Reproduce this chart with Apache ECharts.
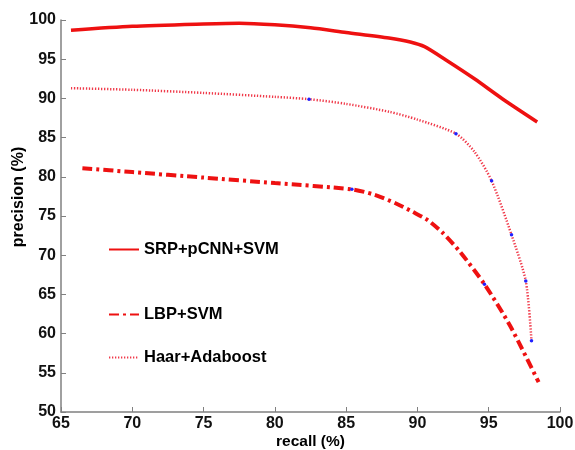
<!DOCTYPE html>
<html><head><meta charset="utf-8">
<script src="https://cdn.jsdelivr.net/npm/echarts@6/dist/echarts.min.js"></script>
<style>html,body{margin:0;padding:0;background:#fff}#c{width:575px;height:450px}</style>
</head><body><div id="c"></div>
<script>
var seriesNames = ['SRP+pCNN+SVM', 'LBP+SVM', 'Haar+Adaboost'];
var srpRecall = [65.7, 70, 75, 77.5, 80, 82.5, 85, 88, 89.5, 90.5, 92, 94, 96, 98.4];
var srpPrecision = [98.7, 99.2, 99.5, 99.6, 99.4, 99.0, 98.4, 97.7, 97.2, 96.6, 94.9, 92.5, 89.9, 87.0];
var lbpRecall = [66.5, 70, 75, 80, 85.4, 87, 88.5, 89.7, 90.7, 91.8, 93, 94.7, 96.5, 98.5];
var lbpPrecision = [81.1, 80.6, 79.9, 79.2, 78.4, 77.7, 76.6, 75.5, 74.5, 72.8, 70.4, 66.3, 61.0, 53.8];
var haarRecall = [65.7, 70, 75, 80, 82.4, 85, 88, 90, 92.7, 94, 95.2, 96.6, 97.6, 98.0];
var haarPrecision = [91.3, 91.1, 90.7, 90.2, 89.9, 89.3, 88.3, 87.3, 85.5, 83.2, 79.5, 72.6, 66.7, 59.1];
var lbpMarked = [85.4, 94.7];
var haarMarked = [82.4, 92.7, 95.2, 96.6, 97.6, 98.0];
var xTicks = [65, 70, 75, 80, 85, 90, 95, 100];
var yTicks = [50, 55, 60, 65, 70, 75, 80, 85, 90, 95, 100];

function build(xs, ys, marked) {
  return xs.map(function (x, i) {
    var it = { value: [x, ys[i]] };
    if (marked.indexOf(x) >= 0) {
      it.symbol = 'circle'; it.symbolSize = 3.5;
      it.itemStyle = { color: '#2020ff', borderWidth: 0 };
    }
    return it;
  });
}
var font = '"Liberation Sans", Arial, sans-serif';
var chart = echarts.init(document.getElementById('c'));
var legendText = { fontFamily: font, fontWeight: 'bold', fontSize: 16.5, color: '#000' };
function leg(name, top) {
  return { data: [name], left: 108, top: top, itemWidth: 30, itemHeight: 14, itemGap: 4, padding: 0,
    textStyle: legendText, itemStyle: { opacity: 0 } };
}
chart.setOption({
  animation: false,
  backgroundColor: '#fff',
  grid: { left: 61, right: 15, top: 20, bottom: 38, outerBoundsMode: 'none', containLabel: false },
  legend: [leg(seriesNames[0], 241), leg(seriesNames[1], 306), leg(seriesNames[2], 349)],
  xAxis: {
    type: 'value', min: 65, max: 100, interval: 5,
    name: 'recall (%)', nameLocation: 'middle', nameGap: 22, nameMoveOverlap: false,
    nameTextStyle: { fontFamily: font, fontWeight: 'bold', fontSize: 15.5, color: '#000' },
    axisLine: { lineStyle: { color: '#808080', width: 1.5 } },
    axisTick: { inside: true, length: 5, lineStyle: { color: '#808080' } },
    axisLabel: { fontFamily: font, fontWeight: 'bold', fontSize: 16, color: '#111', margin: 4,
      formatter: function (v) { return xTicks.indexOf(v) >= 0 ? String(v) : ''; } },
    splitLine: { show: false }
  },
  yAxis: {
    type: 'value', min: 50, max: 100, interval: 5,
    name: 'precision (%)', nameLocation: 'middle', nameGap: 34, nameMoveOverlap: false,
    nameTextStyle: { fontFamily: font, fontWeight: 'bold', fontSize: 16, color: '#000', padding: [0, 0, 0, 38] },
    axisLine: { show: true, lineStyle: { color: '#808080', width: 1.5 } },
    axisTick: { show: true, inside: true, length: 5, lineStyle: { color: '#808080' } },
    axisLabel: { fontFamily: font, fontWeight: 'bold', fontSize: 16, color: '#111', margin: 5,
      formatter: function (v) { return yTicks.indexOf(v) >= 0 ? String(v) : ''; } },
    splitLine: { show: false }
  },
  series: [
    { name: seriesNames[0], type: 'line', smooth: 0.25, symbol: 'none',
      data: build(srpRecall, srpPrecision, []),
      lineStyle: { color: '#ee1111', width: 3.5, type: 'solid' }, itemStyle: { color: '#ee1111' } },
    { name: seriesNames[1], type: 'line', smooth: 0.25, symbol: 'none', showSymbol: true,
      data: build(lbpRecall, lbpPrecision, lbpMarked),
      lineStyle: { color: '#ee1111', width: 4, type: [10, 4, 3, 4] }, itemStyle: { color: '#ee1111' } },
    { name: seriesNames[2], type: 'line', smooth: 0.25, symbol: 'none', showSymbol: true,
      data: build(haarRecall, haarPrecision, haarMarked),
      lineStyle: { color: '#f03a4a', width: 2.5, type: [1.3, 1.7] }, itemStyle: { color: '#f03a4a' } }
  ]
});
</script></body></html>
